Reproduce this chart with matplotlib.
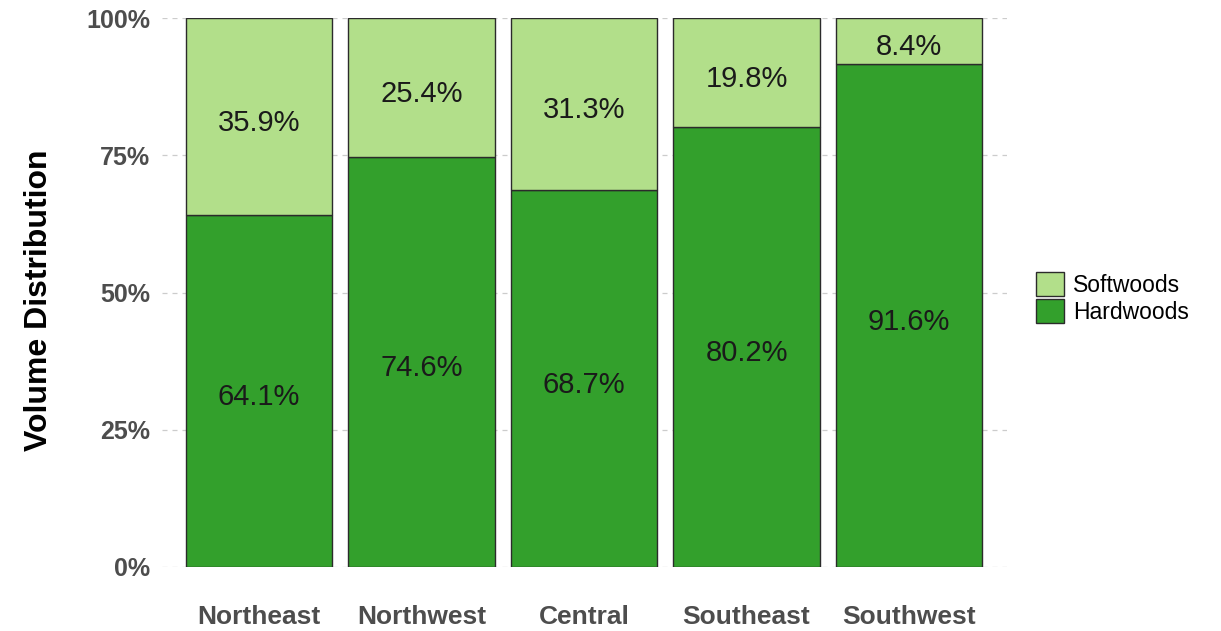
import matplotlib
matplotlib.use("Agg")
import matplotlib.pyplot as plt
from matplotlib.patches import Patch
import numpy as np

plt.rcParams['font.family'] = ['Liberation Sans', 'DejaVu Sans']

regions = ["Northeast", "Northwest", "Central", "Southeast", "Southwest"]
hardwoods = [64.1, 74.6, 68.7, 80.2, 91.6]
softwoods = [35.9, 25.4, 31.3, 19.8, 8.4]
yticks = [0, 25, 50, 75, 100]
ytick_labels = ["0%", "25%", "50%", "75%", "100%"]

soft_color = "#B2DF8A"
hard_color = "#33A02C"
edge = "#2b2b2b"

fig = plt.figure(figsize=(12.21, 6.31), dpi=100)
ax = fig.add_axes([161.5 / 1221, 64 / 631, 845 / 1221, 549 / 631])

x = np.arange(len(regions))
hard = np.array(hardwoods)
soft = np.array(softwoods)

ax.bar(x, hard, width=0.9, color=hard_color, edgecolor=edge, linewidth=1.0, zorder=3)
ax.bar(x, soft, width=0.9, bottom=hard, color=soft_color, edgecolor=edge, linewidth=1.0, zorder=3)

# labels sit a little below the segment middle, like ggplot does
for i in range(len(regions)):
    ax.annotate(f"{hard[i]:.1f}%", (x[i], hard[i] / 2), xytext=(0, -4.5),
                textcoords="offset points", ha="center", va="center",
                fontsize=21, color="#1a1a1a", zorder=4)
    ax.annotate(f"{soft[i]:.1f}%", (x[i], hard[i] + soft[i] / 2), xytext=(0, -4.5),
                textcoords="offset points", ha="center", va="center",
                fontsize=21, color="#1a1a1a", zorder=4)

ax.set_xlim(-0.6, len(regions) - 0.4)
ax.set_ylim(0, 100)
ax.set_yticks(yticks)
ax.set_yticklabels(ytick_labels)
ax.set_xticks(x)
ax.set_xticklabels(regions)

for lbl in ax.get_yticklabels() + ax.get_xticklabels():
    lbl.set_fontweight("bold")
    lbl.set_color("#4D4D4D")
for lbl in ax.get_yticklabels():
    lbl.set_fontsize(18)
for lbl in ax.get_xticklabels():
    lbl.set_fontsize(19)

ax.tick_params(axis="both", length=0)
ax.tick_params(axis="y", pad=8)
ax.tick_params(axis="x", pad=27)

ax.grid(axis="y", color="#cccccc", linestyle=(0, (4, 4)), linewidth=0.9, zorder=0)
for s in ax.spines.values():
    s.set_visible(False)

fig.text(39 / 1221, 1 - 300 / 631, "Volume Distribution", rotation=90,
         ha="center", va="center", fontsize=23, fontweight="bold", color="black")

handles = [Patch(facecolor=soft_color, edgecolor=edge, label="Softwoods"),
           Patch(facecolor=hard_color, edgecolor=edge, label="Hardwoods")]
fig.legend(handles=handles, loc="center left", bbox_to_anchor=(1036 / 1221, 1 - 298 / 631),
           frameon=False, fontsize=16.5, handlelength=1.2, handleheight=1.2,
           handletextpad=0.4, labelspacing=0.1, borderpad=0, borderaxespad=0)

fig.savefig("out.png", dpi=100)
